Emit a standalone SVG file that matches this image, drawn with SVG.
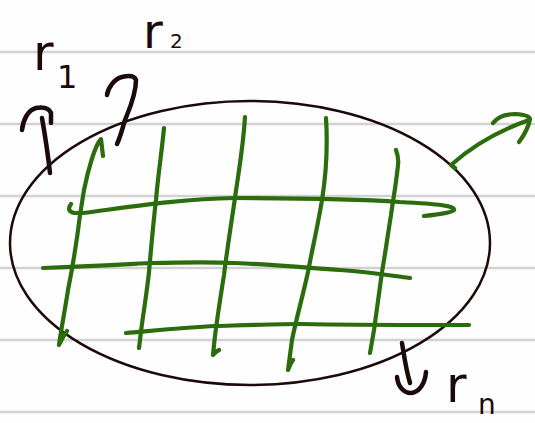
<svg xmlns="http://www.w3.org/2000/svg" width="535" height="423" viewBox="0 0 535 423">
<style>
.paper{stroke:#d2d2d2;stroke-width:2.5;fill:none}
.ink{stroke:#1c0909;fill:none;stroke-linecap:round;stroke-linejoin:round}
.green{stroke:#2b6c0c;stroke-width:4.2;fill:none;stroke-linecap:round;stroke-linejoin:round}
.lbl{font-family:"DejaVu Sans","Liberation Sans",sans-serif;fill:#1c0909}
</style>
<rect width="535" height="423" fill="#fefefe"/>
<g id="paper-lines">
<line class="paper" x1="0" y1="52" x2="535" y2="52"/>
<line class="paper" x1="0" y1="124" x2="535" y2="124"/>
<line class="paper" x1="0" y1="196" x2="535" y2="196"/>
<line class="paper" x1="0" y1="268" x2="535" y2="268"/>
<line class="paper" x1="0" y1="340" x2="535" y2="340"/>
<line class="paper" x1="0" y1="412" x2="535" y2="412"/>
</g>
<g id="region">
<ellipse class="ink" stroke-width="2.5" cx="250" cy="243" rx="240" ry="142"/>
</g>
<g id="grid">
<path class="green" d="M103,156 L101,139 C95,145 88,170 84,190 L80,215 C77,240 72,270 68,290 C65,310 61,330 59,345 Q62,338 67,331"/>
<path class="green" d="M164,128 C162,150 158,175 156,200 C153,225 151,250 149,272 C146,300 142,320 140,340 L139,348"/>
<path class="green" d="M245,117 C243,150 238,175 235,198 C231,225 227,250 224,275 C220,300 216,325 214,345 L213,355 Q215,352 219,350"/>
<path class="green" d="M326,118 C328,150 326,175 322,200 C318,225 312,250 308,272 C303,295 296,320 292,340 L288,370 Q290,364 293,360"/>
<path class="green" d="M396,150 Q399,158 398,165 C396,185 393,200 391,215 C387,240 385,255 382,272 C379,295 376,315 374,330 L370,353"/>
<path class="green" d="M71,204 Q66,211 74,213 L83,213 C130,207 180,199 235,198 C300,198 360,199 400,202 C440,204 455,206 454,210 Q452,213 424,216"/>
<path class="green" d="M43,268 C100,266 130,264 150,263 C190,262 215,262 235,263 C280,265 310,268 340,270 C370,272 395,276 410,278"/>
<path class="green" d="M126,333 C160,330 190,327 215,326 C250,325 280,324 300,324 C350,325 420,325 469,325"/>
</g>
<g id="connectors">
<g id="arrow-out">
<path class="green" d="M455,168 L451,165 C470,148 495,132 529,120"/>
<path class="green" d="M493,123 Q500,114 515,114 Q530,115 530,119 Q528,130 519,142"/>
</g>
<g id="arrow-r1">
<path class="ink" stroke-width="4.5" d="M42,118 C45,135 48,155 50,173"/>
<path class="ink" stroke-width="4.5" d="M22,130 C23,120 28,110 36,108 Q48,106 51,113 L51,123"/>
</g>
<g id="arrow-r2">
<path class="ink" stroke-width="4.5" d="M107,95 C108,88 114,79 122,77 Q134,74 136,80 C136,95 129,110 125,120 C122,130 120,138 117,144"/>
</g>
<g id="arrow-rn">
<path class="ink" stroke-width="4.5" d="M402,343 C404,355 406,370 410,383"/>
<path class="ink" stroke-width="4.5" d="M397,377 C398,387 404,393 411,393 C420,392 425,383 426,372"/>
</g>
</g>
<g id="labels">
<text class="lbl" x="33" y="70" font-size="50">r<tspan x="57" y="88" font-size="32">1</tspan></text>
<text class="lbl" x="143" y="48" font-size="48">r<tspan x="170" y="48" font-size="20">2</tspan></text>
<text class="lbl" x="446" y="402" font-size="50">r<tspan x="478" y="414" font-size="28">n</tspan></text>
</g>
</svg>
